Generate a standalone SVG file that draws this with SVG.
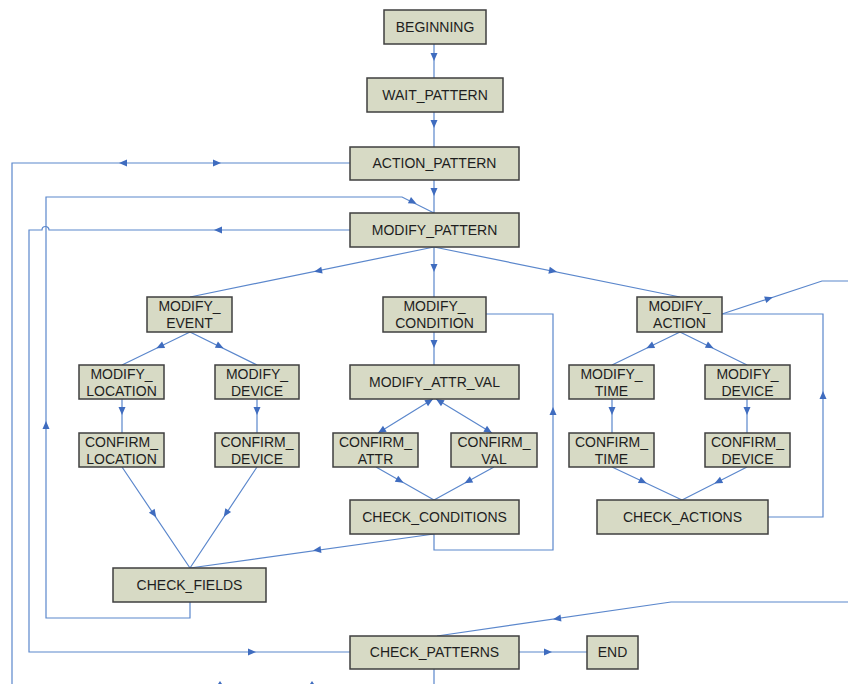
<svg xmlns="http://www.w3.org/2000/svg" xmlns:xlink="http://www.w3.org/1999/xlink" width="848" height="684" viewBox="0 0 848 684">
<style>
.box{fill:#d7dac5;stroke:#3f3f3f;stroke-width:1.5}
.lbl{font-family:"Liberation Sans",Arial,sans-serif;font-size:14px;fill:#1e1e1e;text-anchor:middle}
.ln{fill:none;stroke:#5b87cc;stroke-width:1.2}
.ah{fill:#3f6cbf}
</style>
<defs>
<polygon id="a" points="4,0 -4,-3.5 -4,3.5"/>
</defs>
<rect width="848" height="684" fill="#ffffff"/>
<g id="connectors">
<path class="ln" d="M434,44 V78 M434,112 V147 M434,180 V213"/>
<path class="ln" d="M350,163 H12 V690"/>
<path class="ln" d="M350,230 H49 A3.5,3.5 0 0 0 42,230 H29 V652 H350"/>
<path class="ln" d="M190,602 V618 H46 V197 H402 L434,213"/>
<path class="ln" d="M434,247 L190,297 M434,247 V297 M434,247 L680,297"/>
<path class="ln" d="M190,332 L122,365 M190,332 L257,365 M122,399 V433 M257,399 V433"/>
<path class="ln" d="M122,467 L190,568 M257,467 L190,568 M434,534 L190,568"/>
<path class="ln" d="M434,332 V365 M433,399 L378,433 M436,399 L492,433 M376,467 L434,500 M494,467 L434,500"/>
<path class="ln" d="M434,534 V550 H553 V314 H486"/>
<path class="ln" d="M680,332 L612,365 M680,332 L747,365 M612,399 V433 M747,399 V433 M612,467 L682,500 M747,467 L682,500"/>
<path class="ln" d="M768,517 H823 V314 H722"/>
<path class="ln" d="M722,314 L822,281 H848"/>
<path class="ln" d="M848,602 H671 L437,636"/>
<path class="ln" d="M519,652 H587 M434,669 V690"/>
<g class="ah">
<use xlink:href="#a" transform="translate(434,57) rotate(90)"/>
<use xlink:href="#a" transform="translate(434,124) rotate(90)"/>
<use xlink:href="#a" transform="translate(434,192) rotate(90)"/>
<use xlink:href="#a" transform="translate(123,163) rotate(180)"/>
<use xlink:href="#a" transform="translate(217,163)"/>
<use xlink:href="#a" transform="translate(218,230) rotate(180)"/>
<use xlink:href="#a" transform="translate(252,652)"/>
<use xlink:href="#a" transform="translate(413,202) rotate(26.6)"/>
<use xlink:href="#a" transform="translate(46,425) rotate(-90)"/>
<use xlink:href="#a" transform="translate(318,271) rotate(168.4)"/>
<use xlink:href="#a" transform="translate(434,268) rotate(90)"/>
<use xlink:href="#a" transform="translate(553,271) rotate(11.5)"/>
<use xlink:href="#a" transform="translate(160,346.5) rotate(154.1)"/>
<use xlink:href="#a" transform="translate(220,346.5) rotate(26.2)"/>
<use xlink:href="#a" transform="translate(122,411) rotate(90)"/>
<use xlink:href="#a" transform="translate(257,411) rotate(90)"/>
<use xlink:href="#a" transform="translate(154,514) rotate(56)"/>
<use xlink:href="#a" transform="translate(226,513.5) rotate(123.6)"/>
<use xlink:href="#a" transform="translate(317,550) rotate(172.1)"/>
<use xlink:href="#a" transform="translate(434,344) rotate(90)"/>
<use xlink:href="#a" transform="translate(429.6,401.1) rotate(-31.7)"/>
<use xlink:href="#a" transform="translate(381.4,430.9) rotate(148.3)"/>
<use xlink:href="#a" transform="translate(439.4,401.1) rotate(-148.7)"/>
<use xlink:href="#a" transform="translate(488.6,430.9) rotate(31.3)"/>
<use xlink:href="#a" transform="translate(400,480.7) rotate(29.6)"/>
<use xlink:href="#a" transform="translate(468,481.3) rotate(151.2)"/>
<use xlink:href="#a" transform="translate(553,411) rotate(-90)"/>
<use xlink:href="#a" transform="translate(650,346.5) rotate(154.1)"/>
<use xlink:href="#a" transform="translate(710,346.5) rotate(26.2)"/>
<use xlink:href="#a" transform="translate(612,411) rotate(90)"/>
<use xlink:href="#a" transform="translate(747,411) rotate(90)"/>
<use xlink:href="#a" transform="translate(643,481.6) rotate(25.2)"/>
<use xlink:href="#a" transform="translate(718,481.7) rotate(153.1)"/>
<use xlink:href="#a" transform="translate(823,395) rotate(-90)"/>
<use xlink:href="#a" transform="translate(769,298.5) rotate(-18.3)"/>
<use xlink:href="#a" transform="translate(557,618.6) rotate(171.7)"/>
<use xlink:href="#a" transform="translate(548,652)"/>
<polygon points="218,684 222,684 220,681"/>
<polygon points="310,684 314,684 312,681"/>
</g>
</g>
<g id="n-beginning"><rect class="box" x="384" y="10" width="102" height="34"/><text class="lbl" x="435" y="31.5">BEGINNING</text></g>
<g id="n-wait-pattern"><rect class="box" x="367" y="78" width="136" height="34"/><text class="lbl" x="435" y="99.5">WAIT_PATTERN</text></g>
<g id="n-action-pattern"><rect class="box" x="350" y="147" width="169" height="33"/><text class="lbl" x="434.5" y="168">ACTION_PATTERN</text></g>
<g id="n-modify-pattern"><rect class="box" x="350" y="213" width="169" height="34"/><text class="lbl" x="434.5" y="234.5">MODIFY_PATTERN</text></g>
<g id="n-modify-event"><rect class="box" x="147" y="297" width="85" height="35"/><text class="lbl" x="189.5" y="311">MODIFY_</text><text class="lbl" x="189.5" y="328">EVENT</text></g>
<g id="n-modify-condition"><rect class="box" x="383" y="297" width="103" height="35"/><text class="lbl" x="434.5" y="311">MODIFY_</text><text class="lbl" x="434.5" y="328">CONDITION</text></g>
<g id="n-modify-action"><rect class="box" x="637" y="297" width="85" height="35"/><text class="lbl" x="679.5" y="311">MODIFY_</text><text class="lbl" x="679.5" y="328">ACTION</text></g>
<g id="n-modify-location"><rect class="box" x="79" y="365" width="85" height="34"/><text class="lbl" x="121.5" y="379">MODIFY_</text><text class="lbl" x="121.5" y="396">LOCATION</text></g>
<g id="n-modify-device-event"><rect class="box" x="215" y="365" width="84" height="34"/><text class="lbl" x="257" y="379">MODIFY_</text><text class="lbl" x="257" y="396">DEVICE</text></g>
<g id="n-modify-attr-val"><rect class="box" x="350" y="365" width="169" height="34"/><text class="lbl" x="434.5" y="386.5">MODIFY_ATTR_VAL</text></g>
<g id="n-modify-time"><rect class="box" x="569" y="365" width="85" height="34"/><text class="lbl" x="611.5" y="379">MODIFY_</text><text class="lbl" x="611.5" y="396">TIME</text></g>
<g id="n-modify-device-action"><rect class="box" x="705" y="365" width="85" height="34"/><text class="lbl" x="747.5" y="379">MODIFY_</text><text class="lbl" x="747.5" y="396">DEVICE</text></g>
<g id="n-confirm-location"><rect class="box" x="79" y="433" width="85" height="34"/><text class="lbl" x="121.5" y="447">CONFIRM_</text><text class="lbl" x="121.5" y="464">LOCATION</text></g>
<g id="n-confirm-device-event"><rect class="box" x="215" y="433" width="84" height="34"/><text class="lbl" x="257" y="447">CONFIRM_</text><text class="lbl" x="257" y="464">DEVICE</text></g>
<g id="n-confirm-attr"><rect class="box" x="333" y="433" width="85" height="34"/><text class="lbl" x="375.5" y="447">CONFIRM_</text><text class="lbl" x="375.5" y="464">ATTR</text></g>
<g id="n-confirm-val"><rect class="box" x="451" y="433" width="86" height="34"/><text class="lbl" x="494" y="447">CONFIRM_</text><text class="lbl" x="494" y="464">VAL</text></g>
<g id="n-confirm-time"><rect class="box" x="569" y="433" width="85" height="34"/><text class="lbl" x="611.5" y="447">CONFIRM_</text><text class="lbl" x="611.5" y="464">TIME</text></g>
<g id="n-confirm-device-action"><rect class="box" x="705" y="433" width="85" height="34"/><text class="lbl" x="747.5" y="447">CONFIRM_</text><text class="lbl" x="747.5" y="464">DEVICE</text></g>
<g id="n-check-conditions"><rect class="box" x="350" y="500" width="169" height="34"/><text class="lbl" x="434.5" y="521.5">CHECK_CONDITIONS</text></g>
<g id="n-check-actions"><rect class="box" x="597" y="500" width="171" height="34"/><text class="lbl" x="682.5" y="521.5">CHECK_ACTIONS</text></g>
<g id="n-check-fields"><rect class="box" x="113" y="568" width="153" height="34"/><text class="lbl" x="189.5" y="589.5">CHECK_FIELDS</text></g>
<g id="n-check-patterns"><rect class="box" x="350" y="636" width="169" height="33"/><text class="lbl" x="434.5" y="657">CHECK_PATTERNS</text></g>
<g id="n-end"><rect class="box" x="587" y="636" width="51" height="33"/><text class="lbl" x="612.5" y="657">END</text></g>
</svg>
